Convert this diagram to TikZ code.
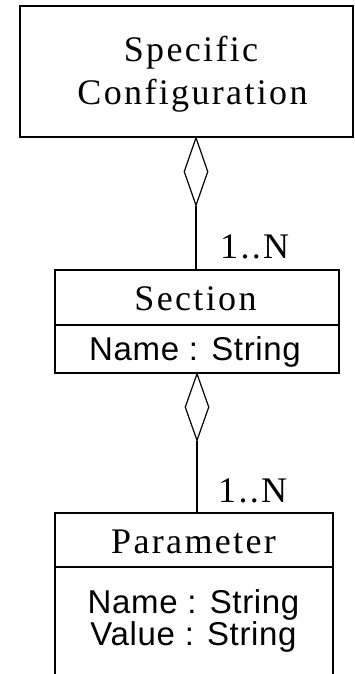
\documentclass[tikz,border=0pt]{standalone}
\usepackage{fontspec}
\setmainfont{Liberation Serif}
\newfontfamily\umlserif[LetterSpace=6.5]{Liberation Serif}
\newfontfamily\umlsans[LetterSpace=2]{Liberation Sans}
\usetikzlibrary{shapes.geometric}
\begin{document}
\begin{tikzpicture}[x=1pt,y=-1pt,
  classbox/.style={draw, line width=1.6pt, rectangle, inner sep=0pt},
  aggr/.style={draw, line width=1.2pt, diamond, inner sep=0pt,
    minimum width=24pt, minimum height=68pt, anchor=north},
  link/.style={line width=1.6pt},
  title/.style={font=\fontsize{36}{42}\umlserif, anchor=base, inner sep=0pt},
  attr/.style={font=\fontsize{33}{38}\umlsans, anchor=base, inner sep=0pt},
  mult/.style={font=\fontsize{36}{42}\umlserif, anchor=base west, inner sep=0pt}]
  \fill[white] (0,0) rectangle (354,674);
  \useasboundingbox (0,0) rectangle (354,674);
  \clip (0,0) rectangle (354,674);

  % class boxes
  \node[classbox, minimum width=333pt, minimum height=131pt] (spec) at (186.5,71.5) {};
  \node[classbox, minimum width=284pt, minimum height=103pt] (section) at (197,321.5) {};
  \node[classbox, minimum width=278pt, minimum height=187pt] (param) at (194,606.5) {};

  % compartment separators
  \coordinate (sepS) at (55,325);
  \coordinate (sepP) at (55,567);
  \draw[link] (sepS -| section.west) -- (sepS -| section.east);
  \draw[link] (sepP -| param.west) -- (sepP -| param.east);

  % texts
  \node[title] (specA) at (191,62) {Specific};
  \node[title] (specB) at (192.5,105) {Configuration};
  \node[title] (secT) at (195.5,310) {Section};
  \node[attr] (secA) at (195,360) {Name : String};
  \node[title] (parT) at (193.5,553) {Parameter};
  \node[attr] (parA) at (193.5,613) {Name : String};
  \node[attr] (parB) at (193.5,645) {Value : String};

  % aggregations
  \node[aggr] (d1) at (196,137) {};
  \node[aggr, minimum height=67pt] (d2) at (197,373) {};
  \draw[link] (d1.south) -- (d1.south |- section.north);
  \draw[link] (d2.south) -- (d2.south |- param.north);

  % multiplicities
  \node[mult] (m1) at (220,258) {1..N};
  \node[mult] (m2) at (218,502) {1..N};
\end{tikzpicture}
\end{document}
